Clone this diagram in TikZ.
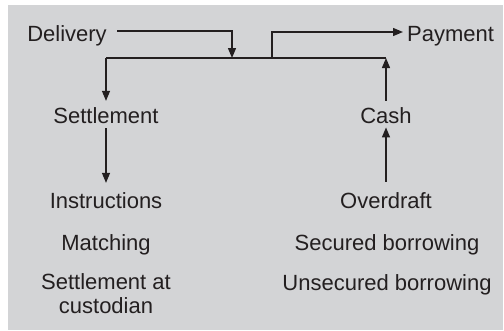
\documentclass[tikz,border=0pt]{standalone}
\usepackage{fontspec}
\setmainfont{Liberation Sans}
\usetikzlibrary{arrows.meta}
\definecolor{bg}{RGB}{211,212,214}
\definecolor{ink}{RGB}{35,31,32}
\begin{document}
\begin{tikzpicture}[x=1pt,y=-1pt,
 lbl/.style={font=\fontsize{22}{24}\selectfont, text=ink, inner sep=0pt, anchor=base, align=center},
 conn/.style={draw=ink, line width=1.3pt},
 arr/.style={conn, -{Triangle[length=10pt,width=8pt]}}]
\useasboundingbox (0,0) rectangle (504,330);
\fill[bg] (8,5) rectangle (503,330);
\node[lbl] (delivery) at (67,41) {Delivery};
\node[lbl,anchor=base west] (payment) at (407,41) {Payment};
\node[lbl] (settlement) at (106,123) {Settlement};
\node[lbl] (cash) at (386,123) {Cash};
\node[lbl] (instructions) at (106,208) {Instructions};
\node[lbl] (overdraft) at (386,208) {Overdraft};
\node[lbl] (matching) at (106,250) {Matching};
\node[lbl] (secured) at (387,250) {Secured borrowing};
\node[lbl] (unsecured) at (387,290) {Unsecured borrowing};
\node[lbl,anchor=center] (custodian) at (106,294) {Settlement at\\custodian};
\coordinate (ds) at (117,31);
\coordinate (dj) at (232,58);
\coordinate (ml) at (106,58);
\coordinate (mr) at (386,58);
\coordinate (pj) at (272,58);
\coordinate (pe) at (403,32);
\draw[arr] (ds) -| (dj);
\draw[conn] (ml) -- (mr);
\draw[arr, shorten >=6pt] (ml) -- (settlement.north);
\draw[arr] (pj) |- (pe);
\draw[arr, shorten <=6pt] (cash.north) -- (mr);
\draw[arr, shorten <=5pt, shorten >=9pt] (settlement.south) -- (instructions.north);
\draw[arr, shorten <=10pt, shorten >=4pt] (overdraft.north) -- (cash.south);
\end{tikzpicture}
\end{document}
